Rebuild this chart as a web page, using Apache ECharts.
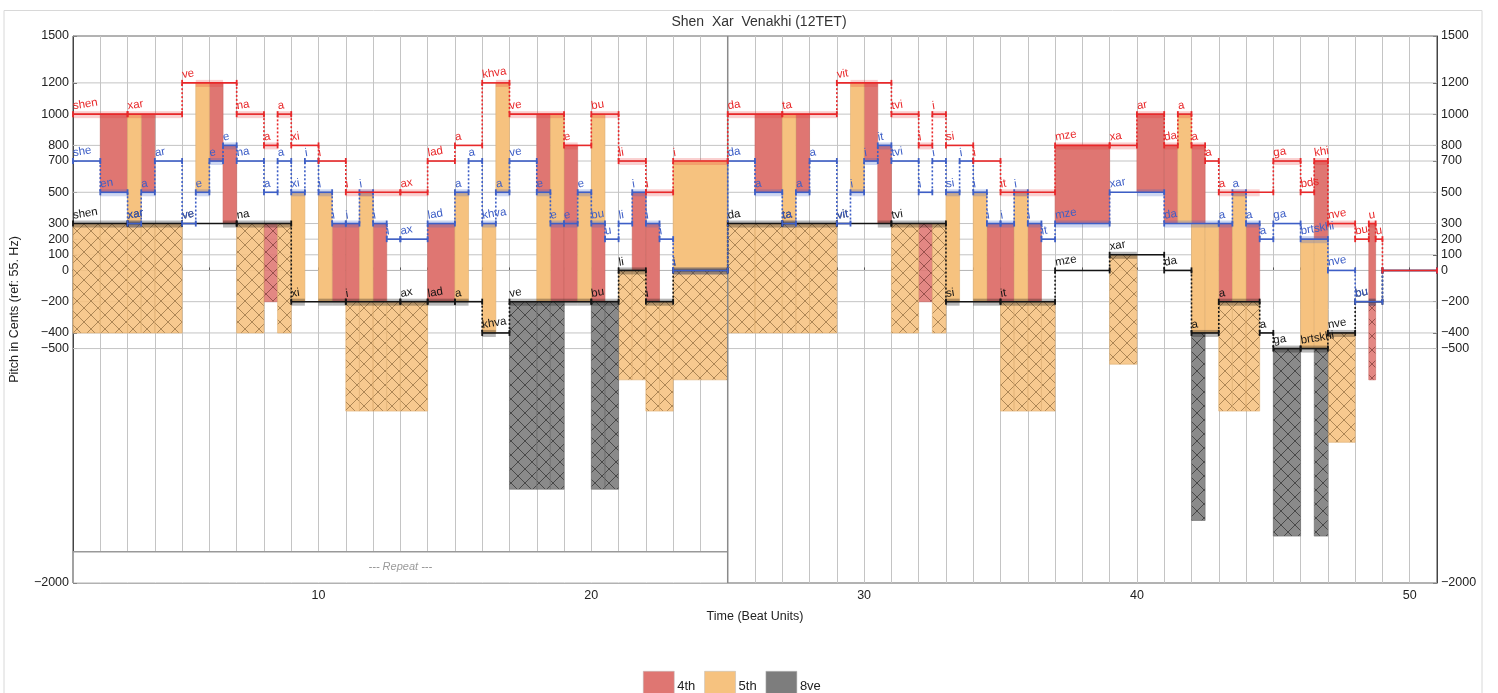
<!DOCTYPE html>
<html><head><meta charset="utf-8">
<script src="https://cdn.jsdelivr.net/npm/echarts@6/dist/echarts.min.js"></script>
<style>html,body{margin:0;padding:0;background:#fff}#c{width:1498px;height:693px}</style>
</head><body><div id="c"></div>
<script>
// ---------------- DATA ----------------
const END_BEAT = 51;
const xTickLabels = [10, 20, 30, 40, 50];
const yTickLabels = [1500, 1200, 1000, 800, 700, 500, 300, 200, 100, 0, -200, -400, -500, -2000];

// upper voice (red)
const topStarts = [1,3,5,7,8,8.5,9,10,11,13,14,15,16,17,19,20,21,22,23,25,27,29,31,32,32.5,33,34,35,37,39,40,41,41.5,42,42.5,43,45,46,46.5,47,48,48.5,48.75,49];
const topCents  = [1000,1000,1200,1000,800,1000,800,700,500,500,700,800,1200,1000,800,1000,700,500,700,1000,1000,1200,1000,800,1000,800,700,500,800,800,1000,800,1000,800,700,500,700,500,700,300,200,300,200,0];
const topSyllables = ['shen','xar','ve','na','a','a','xi','i','i','ax','lad','a','khva','ve','e','bu','li','i','i','da','ta','vit','tvi','i','i','si','i','it','mze','xa','ar','da','a','a','a','a','ga','bds','khi','nve','bu','u','u',''];

// middle voice (blue)
const midStarts = [1,2,3,3.5,4,5,5.5,6,6.5,7,8,8.5,9,9.5,10,10.5,11,11.5,12,12.5,13,14,15,15.5,16,16.5,17,18,18.5,19,19.5,20,20.5,21,21.5,22,22.5,23,25,26,27,27.5,28,29,29.5,30,30.5,31,32,32.5,33,33.5,34,34.5,35,35.5,36,36.5,37,39,41,43,43.5,44,44.5,45,46,47,48,49];
const midCents  = [700,500,300,500,700,300,500,700,800,700,500,700,500,700,500,300,300,500,300,200,200,300,500,700,300,500,700,500,300,300,500,300,200,300,500,300,200,0,700,500,300,500,700,300,500,700,800,700,500,700,500,700,500,300,300,500,300,200,300,500,300,300,500,300,200,300,200,0,-200,0];
const midSyllables = ['she','en','xar','a','ar','ve','e','e','e','na','a','a','xi','i','i','i','i','i','i','i','ax','lad','a','a','khva','a','ve','e','e','e','e','bu','u','li','i','i','i','i','da','a','ta','a','a','vit','i','i','it','tvi','i','i','si','i','i','i','i','i','i','it','mze','xar','da','a','a','a','a','ga','brtskhi','nve','bu',''];

// lower voice (black)
const botStarts = [1,3,5,7,9,11,13,14,15,16,17,20,21,22,23,25,27,29,31,33,35,37,39,41,42,43,44.5,45,46,47,48,49];
const botCents  = [300,300,300,300,-200,-200,-200,-200,-200,-400,-200,-200,0,-200,0,300,300,300,300,-200,-200,0,100,0,-400,-200,-400,-500,-500,-400,-200,0];
const botSyllables = ['shen','xar','ve','na','xi','i','ax','lad','a','khva','ve','bu','li','i','i','da','ta','vit','tvi','si','it','mze','xar','da','a','a','a','ga','brtskhi','nve','bu',''];

const intervalNames = ['4th', '5th', '8ve'];
const intervalSizes = [500, 700, 1200];
const repeatBeats = [1, 25];
const repeatFloor = [-2000, -1800];
const repeatText = '--- Repeat ---';
const sectionBreak = 25;

// ---------------- STYLE ----------------
const barColors = ['#df7672', '#f6c27f', '#7d7d7d'];
const hatchBase = ['rgba(223,118,114,0.88)', 'rgba(246,194,127,0.88)', 'rgba(125,125,125,0.9)'];
const barEdges  = ['#c96662', '#dfae70', '#6a6a6a'];
const hatchLines = ['rgba(110,50,45,0.7)', 'rgba(120,85,45,0.65)', 'rgba(40,40,40,0.75)'];
const voiceColors = ['#e8282a', '#3d5ec6', '#141414'];
const bandColors  = ['rgba(232,40,42,0.22)', 'rgba(61,94,198,0.25)', 'rgba(20,20,20,0.3)'];
const FONT = '"Liberation Sans", Arial, sans-serif';
const fmtNum = v => String(v).replace('-', '\u2212');

// ---------------- DERIVED ----------------
const voices = [
  {starts: topStarts, cents: topCents, syl: topSyllables},
  {starts: midStarts, cents: midCents, syl: midSyllables},
  {starts: botStarts, cents: botCents, syl: botSyllables}
];
voices.forEach(v => { v.segs = v.starts.map((s, i) => [s, i + 1 < v.starts.length ? v.starts[i + 1] : END_BEAT, v.cents[i]]); });
function pitchAt(v, t) { for (const g of v.segs) if (t >= g[0] && t < g[1]) return g[2]; return null; }
const cuts = Array.from(new Set([].concat(topStarts, midStarts, botStarts, [END_BEAT]))).sort((a, b) => a - b);
const bars = [[], [], []];
const bands = [];
for (let i = 0; i + 1 < cuts.length; i++) {
  const a = cuts[i], b = cuts[i + 1];
  const T = pitchAt(voices[0], a), M = pitchAt(voices[1], a), B = pitchAt(voices[2], a);
  const k1 = intervalSizes.indexOf(T - M), k2 = intervalSizes.indexOf(M - B), k3 = intervalSizes.indexOf(T - B);
  if (k1 >= 0) bars[k1].push([a, b, M, T, 0]);
  if (k2 >= 0) bars[k2].push([a, b, B, M, 0]);
  if (k3 >= 0) bars[k3].push([a, b, B - (T - B), B, 1]);
  if (k1 >= 0 || k3 >= 0) bands.push([a, b, T, 0]);
  if (k1 >= 0 || k2 >= 0) bands.push([a, b, M, 1]);
  if (k2 >= 0 || k3 >= 0) bands.push([a, b, B, 2]);
}

function hatchCanvas(k) {
  const s = 14, cv = document.createElement('canvas');
  cv.width = s; cv.height = s;
  const g = cv.getContext('2d');
  g.fillStyle = hatchBase[k]; g.fillRect(0, 0, s, s);
  g.strokeStyle = hatchLines[k]; g.lineWidth = 0.9;
  g.beginPath(); g.moveTo(0, 0); g.lineTo(s, s); g.moveTo(s, 0); g.lineTo(0, s); g.stroke();
  return cv;
}
const hatches = [0, 1, 2].map(hatchCanvas);

const chart = echarts.init(document.getElementById('c'), null, {renderer: 'canvas'});

const series = [];
// horizontal grid lines at tick values
series.push({
  type: 'custom', silent: true, z: 1, data: yTickLabels.map(v => [1, v]),
  renderItem(p, api) {
    const a = api.coord([1, api.value(1)]), b = api.coord([END_BEAT, api.value(1)]);
    return {type: 'line', shape: {x1: a[0], y1: a[1], x2: b[0], y2: b[1]}, style: {stroke: '#c4c4c4', lineWidth: 1}};
  }
});
// interval bars
intervalNames.forEach((nm, k) => {
  series.push({
    type: 'custom', name: nm, silent: true, z: 2, itemStyle: {color: barColors[k]},
    data: bars[k], encode: {x: [0, 1], y: [2, 3]},
    renderItem(p, api) {
      const p0 = api.coord([api.value(0), api.value(3)]);
      const p1 = api.coord([api.value(1), api.value(2)]);
      const h = api.value(4) === 1;
      return {type: 'rect', shape: {x: p0[0], y: p0[1], width: p1[0] - p0[0], height: p1[1] - p0[1]},
        style: {fill: h ? {image: hatches[k], repeat: 'repeat'} : barColors[k], stroke: barEdges[k], lineWidth: 0.6}};
    }
  });
});
// repeat box
series.push({
  type: 'custom', silent: true, z: 3, data: [[repeatBeats[0], repeatBeats[1], repeatFloor[0], repeatFloor[1]]],
  renderItem(p, api) {
    const a = api.coord([api.value(0), api.value(3)]), b = api.coord([api.value(1), api.value(2)]);
    return {type: 'group', children: [
      {type: 'rect', shape: {x: a[0] + 0.5, y: a[1], width: b[0] - a[0] - 1, height: b[1] - a[1] - 0.5}, style: {fill: '#fff'}},
      {type: 'line', shape: {x1: a[0], y1: a[1], x2: b[0], y2: a[1]}, style: {stroke: '#999', lineWidth: 1.5}},
      {type: 'text', x: (a[0] + b[0]) / 2, y: (a[1] + b[1]) / 2, style: {text: repeatText, fill: '#9a9a9a', font: 'italic 11px ' + FONT, textAlign: 'center', textVerticalAlign: 'middle'}}
    ]};
  }
});
// section separator
series.push({
  type: 'custom', silent: true, z: 3, data: [[sectionBreak, yTickLabels[yTickLabels.length - 1], yTickLabels[0]]],
  renderItem(p, api) {
    const a = api.coord([api.value(0), api.value(1)]), b = api.coord([api.value(0), api.value(2)]);
    return {type: 'line', shape: {x1: a[0], y1: a[1], x2: b[0], y2: b[1]}, style: {stroke: '#8a8a8a', lineWidth: 1.5}};
  }
});
// bands
series.push({
  type: 'custom', silent: true, z: 4, data: bands, encode: {x: [0, 1], y: 2},
  renderItem(p, api) {
    const a = api.coord([api.value(0), api.value(2)]), b = api.coord([api.value(1), api.value(2)]);
    return {type: 'line', shape: {x1: a[0], y1: a[1] + 0.5, x2: b[0], y2: b[1] + 0.5}, style: {stroke: bandColors[api.value(3)], lineWidth: 7}};
  }
});
// voices
voices.forEach((v, vi) => {
  const col = voiceColors[vi];
  series.push({
    type: 'custom', silent: true, z: 6 - vi * 0.1, data: v.segs, encode: {x: [0, 1], y: 2},
    renderItem(p, api) {
      const i = p.dataIndex;
      const s = api.value(0), e = api.value(1), c = api.value(2);
      const a = api.coord([s, c]), b = api.coord([e, c]);
      const ch = [
        {type: 'line', shape: {x1: a[0], y1: a[1], x2: b[0], y2: b[1]}, style: {stroke: col, lineWidth: 1.6}},
        {type: 'line', shape: {x1: a[0], y1: a[1] - 3, x2: a[0], y2: a[1] + 3}, style: {stroke: col, lineWidth: 1.8}},
        {type: 'line', shape: {x1: b[0], y1: b[1] - 3, x2: b[0], y2: b[1] + 3}, style: {stroke: col, lineWidth: 1.8}}
      ];
      if (i > 0 && v.cents[i - 1] !== c) {
        const q = api.coord([s, v.cents[i - 1]]);
        ch.push({type: 'line', shape: {x1: a[0], y1: q[1], x2: a[0], y2: a[1]}, style: {stroke: col, lineWidth: 1.6, lineDash: [2, 2]}});
      }
      if (v.syl[i]) ch.push({type: 'text', x: a[0] + 1, y: a[1] - 2, rotation: 0.16,
        style: {text: v.syl[i], fill: col, font: '11.5px ' + FONT, textAlign: 'left', textVerticalAlign: 'bottom'}});
      return {type: 'group', children: ch};
    }
  });
});

const yAxisBase = {
  type: 'value', min: -2000, max: 1500, interval: 500,
  axisLine: {show: true, lineStyle: {color: '#444'}},
  axisTick: {show: true, inside: true, length: 4, customValues: yTickLabels, lineStyle: {color: '#444'}},
  axisLabel: {customValues: yTickLabels, formatter: fmtNum, color: '#222', fontSize: 12.5, fontFamily: FONT, margin: 4},
  splitLine: {show: false}
};

chart.setOption({
  animation: false,
  backgroundColor: '#fff',
  title: {text: 'Shen  Xar  Venakhi (12TET)', left: 754, textAlign: 'center', top: 10,
    textStyle: {fontSize: 14, fontWeight: 'normal', color: '#333', fontFamily: FONT}},
  legend: {
    data: intervalNames.map((n, k) => ({name: n, itemStyle: {color: barColors[k], borderColor: '#bbb', borderWidth: 0.5}})),
    left: 638, top: 666, icon: 'rect', itemWidth: 31, itemHeight: 30, itemGap: 9, selectedMode: false,
    textStyle: {fontSize: 13, color: '#222', fontFamily: FONT, padding: [0, 0, 0, -2]}
  },
  graphic: [{type: 'rect', shape: {x: 4, y: 10.5, width: 1478, height: 700}, style: {fill: 'none', stroke: '#d8d8d8', lineWidth: 1}, silent: true, z: -1}],
  grid: {left: 71.5, right: 61, top: 36, bottom: 110, show: true, borderColor: '#444', borderWidth: 1, backgroundColor: 'transparent'},
  xAxis: {
    type: 'value', min: 1, max: END_BEAT, interval: 1,
    name: 'Time (Beat Units)', nameLocation: 'middle', nameGap: 27,
    nameTextStyle: {fontSize: 12.5, color: '#222', fontFamily: FONT},
    axisLine: {show: true, lineStyle: {color: '#444'}},
    axisTick: {show: true, inside: true, length: 3, lineStyle: {color: '#555'}},
    axisLabel: {formatter: v => xTickLabels.includes(v) ? String(v) : '', color: '#222', fontSize: 12.5, fontFamily: FONT, margin: 6},
    splitLine: {show: true, lineStyle: {color: '#c4c4c4', width: 1}}
  },
  yAxis: [
    Object.assign({}, yAxisBase, {position: 'left', name: 'Pitch in Cents (ref: 55. Hz)', nameLocation: 'middle', nameGap: 52,
      nameTextStyle: {fontSize: 12.5, color: '#222', fontFamily: FONT}}),
    Object.assign({}, yAxisBase, {position: 'right'})
  ],
  series
});
</script>
</body></html>
